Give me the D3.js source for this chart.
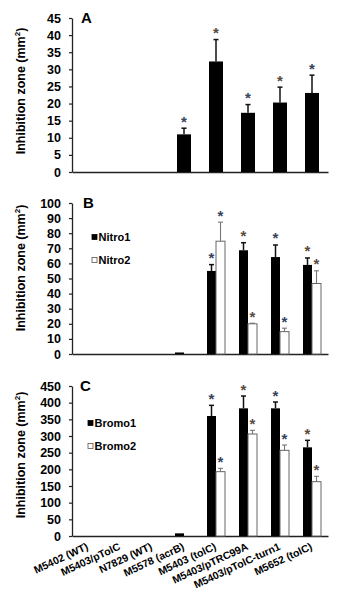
<!DOCTYPE html>
<html>
<head>
<meta charset="utf-8">
<script src="https://cdn.jsdelivr.net/npm/d3@7"></script>
<style>
  body { margin: 0; background: #fff; }
  svg { display: block; font-family: "Liberation Sans", Arial, sans-serif; }
</style>
</head>
<body>
<svg id="chart"></svg>
<script>
// strains on the x axis (shared by the three panels)
const strains = ["M5402 (WT)", "M5403/pTolC", "N7829 (WT)", "M5578 (acrB)",
    "M5403 (tolC)", "M5403/pTRC99A", "M5403/pTolC-turn1", "M5652 (tolC)"];

// panel A
const aValues = [0, 0, 0, 11, 32.3, 17.3, 20.3, 23.1];
const aErrors = [0, 0, 0, 1.8, 6.4, 2.4, 4.5, 5.2];
const aStars  = [0, 0, 0, 1, 1, 1, 1, 1];
const aTicks  = [0, 5, 10, 15, 20, 25, 30, 35, 40, 45];

// panel B
const nitro1 = [0, 0, 0, 1, 55, 68.7, 64.2, 59];
const nitro1Err = [0, 0, 0, 0, 4.2, 5, 8, 4.6];
const nitro1Stars = [0, 0, 0, 0, 1, 1, 1, 1];
const nitro2 = [0, 0, 0, 0, 74.7, 20, 14.8, 46.7];
const nitro2Err = [0, 0, 0, 0, 12.6, 0.4, 2.3, 8.4];
const nitro2Stars = [0, 0, 0, 0, 1, 1, 1, 1];
const bTicks = [0, 10, 20, 30, 40, 50, 60, 70, 80, 90, 100];

// panel C
const bromo1 = [0, 0, 0, 8, 360, 383, 383, 266];
const bromo1Err = [0, 0, 0, 0, 32, 37, 19, 21];
const bromo1Stars = [0, 0, 0, 0, 1, 1, 1, 1];
const bromo2 = [0, 0, 0, 0, 193, 306, 257, 163];
const bromo2Err = [0, 0, 0, 0, 10, 11, 16, 16];
const bromo2Stars = [0, 0, 0, 0, 1, 1, 1, 1];
const cTicks = [0, 50, 100, 150, 200, 250, 300, 350, 400, 450];

const width = 343, height = 600;
const svg = d3.select("#chart").attr("width", width).attr("height", height);

const left = 72, right = 328;
const x = d3.scaleBand().domain(strains).range([left, right]);

function drawPanel(p) {
    const g = svg.append("g");
    const y = d3.scaleLinear().domain([0, p.max]).range([p.bottom, p.top]);

    // y axis
    const ya = g.append("g")
        .attr("transform", `translate(${left},0)`)
        .call(d3.axisLeft(y).tickValues(p.ticks).tickSize(3).tickSizeOuter(0).tickPadding(8));
    ya.select(".domain").attr("stroke", "#222").attr("stroke-width", 1.3);
    ya.selectAll(".tick line").attr("stroke", "#222").attr("stroke-width", 1.2);
    ya.selectAll("text")
        .attr("font-size", 12.5).attr("font-weight", "bold").attr("fill", "#000")
        .attr("font-family", "Liberation Sans, Arial, sans-serif");

    // x axis line
    const xa = g.append("g")
        .attr("transform", `translate(0,${p.bottom})`)
        .call(d3.axisBottom(x).tickSize(0).tickSizeOuter(0));
    xa.select(".domain").attr("stroke", "#222").attr("stroke-width", 1.3);
    if (p.labels) {
        xa.selectAll("text")
            .attr("y", 0).attr("dy", 0)
            .attr("transform", "translate(1,13) rotate(-25)")
            .style("text-anchor", "end")
            .attr("font-size", 10.5).attr("font-weight", "bold").attr("fill", "#000")
            .attr("font-family", "Liberation Sans, Arial, sans-serif");
    } else {
        xa.selectAll("text").remove();
    }

    // bars
    const inner = d3.scaleBand()
        .domain(p.series.map((s, i) => i))
        .range([0, p.groupWidth]);
    const off = (x.bandwidth() - p.groupWidth) / 2;

    p.series.forEach((s, si) => {
        const rows = strains.map((name, i) => ({name, v: s.values[i], e: s.errors[i], star: s.stars[i]}));
        const bx = d => x(d.name) + off + inner(si);
        const bw = inner.bandwidth();
        const errColor = s.fill === "black" ? "#111" : "#777";
        const errWidth = s.fill === "black" ? 1.5 : 1.1;

        g.selectAll(null).data(rows.filter(d => d.e > 0)).join("line")
            .attr("x1", d => bx(d) + bw / 2).attr("x2", d => bx(d) + bw / 2)
            .attr("y1", d => y(d.v)).attr("y2", d => y(d.v + d.e))
            .attr("stroke", errColor).attr("stroke-width", errWidth);
        g.selectAll(null).data(rows.filter(d => d.e > 0)).join("line")
            .attr("x1", d => bx(d) + bw / 2 - 2.5).attr("x2", d => bx(d) + bw / 2 + 2.5)
            .attr("y1", d => y(d.v + d.e)).attr("y2", d => y(d.v + d.e))
            .attr("stroke", errColor).attr("stroke-width", errWidth);

        g.selectAll(null).data(rows.filter(d => d.v > 0)).join("rect")
            .attr("x", d => bx(d))
            .attr("y", d => y(d.v))
            .attr("width", bw)
            .attr("height", d => y(0) - y(d.v))
            .attr("fill", s.fill === "black" ? "#000" : "#fff")
            .attr("stroke", s.fill === "black" ? "#000" : "#666")
            .attr("stroke-width", s.fill === "black" ? 0 : 1);

        // significance stars
        g.selectAll(null).data(rows.filter(d => d.star)).join("text")
            .attr("x", d => bx(d) + bw / 2)
            .attr("y", d => y(d.v + d.e) - 1.5)
            .attr("text-anchor", "middle")
            .attr("font-size", 15).attr("font-weight", "bold")
            .attr("fill", (d, i) => i % 2 ? "#5a4a3a" : "#34425e")
            .text("*");
    });

    // panel letter
    g.append("text").attr("x", p.letterX).attr("y", p.top + 5)
        .attr("font-size", 15).attr("font-weight", "bold").text(p.letter);

    // y title
    const t = g.append("text")
        .attr("transform", `translate(25,${p.titleY}) rotate(-90)`)
        .attr("text-anchor", "middle")
        .attr("font-size", 12.5).attr("font-weight", "bold");
    t.append("tspan").text("Inhibition zone (mm");
    t.append("tspan").attr("font-size", 8).attr("dy", -5).text("2");
    t.append("tspan").attr("dy", 5).text(")");

    // legend
    if (p.legend) {
        p.series.forEach((s, si) => {
            const ly = p.legendY + si * 23;
            g.append("rect").attr("x", p.legendX).attr("y", ly - 2.5).attr("width", 5).attr("height", 5)
                .attr("fill", s.fill === "black" ? "#000" : "#fff")
                .attr("stroke", s.fill === "black" ? "#000" : "#555").attr("stroke-width", 0.8);
            g.append("text").attr("x", p.legendX + 6.5).attr("y", ly + 4)
                .attr("font-size", 11).attr("font-weight", "bold").text(s.name);
        });
    }
}

drawPanel({
    letter: "A", letterX: 81, top: 18, bottom: 172, max: 45, ticks: aTicks, titleY: 91,
    groupWidth: 14, labels: false, legend: false,
    series: [{name: "A", values: aValues, errors: aErrors, stars: aStars, fill: "black"}]
});

drawPanel({
    letter: "B", letterX: 83, top: 203, bottom: 354, max: 100, ticks: bTicks, titleY: 268,
    groupWidth: 18, labels: false, legend: true, legendX: 92, legendY: 237,
    series: [
        {name: "Nitro1", values: nitro1, errors: nitro1Err, stars: nitro1Stars, fill: "black"},
        {name: "Nitro2", values: nitro2, errors: nitro2Err, stars: nitro2Stars, fill: "white"}
    ]
});

drawPanel({
    letter: "C", letterX: 80, top: 386, bottom: 536, max: 450, ticks: cTicks, titleY: 455,
    groupWidth: 18, labels: true, legend: true, legendX: 88, legendY: 423,
    series: [
        {name: "Bromo1", values: bromo1, errors: bromo1Err, stars: bromo1Stars, fill: "black"},
        {name: "Bromo2", values: bromo2, errors: bromo2Err, stars: bromo2Stars, fill: "white"}
    ]
});
</script>
</body>
</html>
